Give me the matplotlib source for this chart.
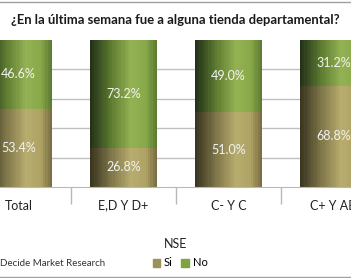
import numpy as np
import matplotlib.pyplot as plt
from matplotlib.colors import LinearSegmentedColormap
from matplotlib.lines import Line2D
from matplotlib.patches import Patch

plt.rcParams['font.family'] = ['Lato', 'DejaVu Sans']

categories = ["Total", "E,D Y D+", "C- Y C", "C+ Y AB"]
si = [53.4, 26.8, 51.0, 68.8]
no = [46.6, 73.2, 49.0, 31.2]

title = "¿En la última semana fue a alguna tienda departamental?"
source = "Decide Market Research"

si_cmap = LinearSegmentedColormap.from_list(
    "si", [(0.0, "#3a3620"), (0.3, "#7d7448"), (0.62, "#b8ad6e"),
           (0.85, "#ada164"), (1.0, "#7a7044")])
no_cmap = LinearSegmentedColormap.from_list(
    "no", [(0.0, "#25321a"), (0.3, "#5c7a2e"), (0.62, "#94b254"),
           (0.85, "#88a84a"), (1.0, "#5e7c32")])
si_flat = "#9a9258"
no_flat = "#7fa342"

fig = plt.figure(figsize=(3.51, 2.78), dpi=100)
ax = fig.add_axes([0, 91 / 278, 1, 147 / 278])

x = np.arange(len(categories))
width = 0.64
n_strips = 30


def gradient_bars(heights, bottoms, cmap):
    # shade each bar by stacking thin vertical strips across its width
    step = width / n_strips
    for k in range(n_strips):
        left = x - width / 2 + k * step
        w = step * (1.3 if k < n_strips - 1 else 1.0)
        ax.bar(left, heights, w, bottom=bottoms, align="edge",
               color=cmap(k / (n_strips - 1)), linewidth=0, zorder=2)


gradient_bars(si, 0, si_cmap)
gradient_bars(no, si, no_cmap)

for i in range(len(categories)):
    ax.text(x[i], si[i] / 2, f"{si[i]:.1f}%", ha="center", va="center",
            color="#f2f2f2", fontsize=9, zorder=3)
    ax.text(x[i], si[i] + no[i] / 2, f"{no[i]:.1f}%", ha="center", va="center",
            color="#f2f2f2", fontsize=9, zorder=3)

ax.set_yticks([20, 40, 60, 80])
ax.yaxis.grid(True, color="#c0c0c0", linewidth=1)
ax.set_axisbelow(True)
ax.tick_params(axis="y", left=False, labelleft=False)

ax.set_xticks(x)
ax.set_xticklabels(categories, fontsize=9, color="#222222")
ax.tick_params(axis="x", which="major", length=0, pad=9)
ax.set_xticks(np.arange(-0.5, len(categories), 1), minor=True)
ax.tick_params(axis="x", which="minor", length=12, color="#b8b8b8", width=1)

# limits after the ticks, since set_xticks widens the view
ax.set_xlim(-18.5 / 105, 332.5 / 105)
ax.set_ylim(0, 100)

for s in ["left", "right", "top"]:
    ax.spines[s].set_visible(False)
ax.spines["bottom"].set_color("#b8b8b8")

ax.set_xlabel("NSE", fontsize=9, color="#222222", labelpad=19)

fig.text(0.5, 1 - 20 / 278, title, ha="center", va="center",
         fontsize=9.4, fontweight="bold", color="#1a1a1a")
fig.text(0, 1 - 263 / 278, source, ha="left", va="center",
         fontsize=7, color="#333333")

handles = [Patch(color=si_flat), Patch(color=no_flat)]
fig.legend(handles, ["Si", "No"], loc="center", ncol=2,
           bbox_to_anchor=(180 / 351, 1 - 263 / 278), frameon=False,
           fontsize=8, handlelength=0.7, handleheight=0.7,
           handletextpad=0.3, columnspacing=0.8)

fig.add_artist(Line2D([0, 1], [1 - 1.5 / 278] * 2, color="#a0a0a0", linewidth=1))
fig.add_artist(Line2D([0, 1], [1.5 / 278] * 2, color="#a0a0a0", linewidth=1))

fig.savefig("out.png", dpi=100)
